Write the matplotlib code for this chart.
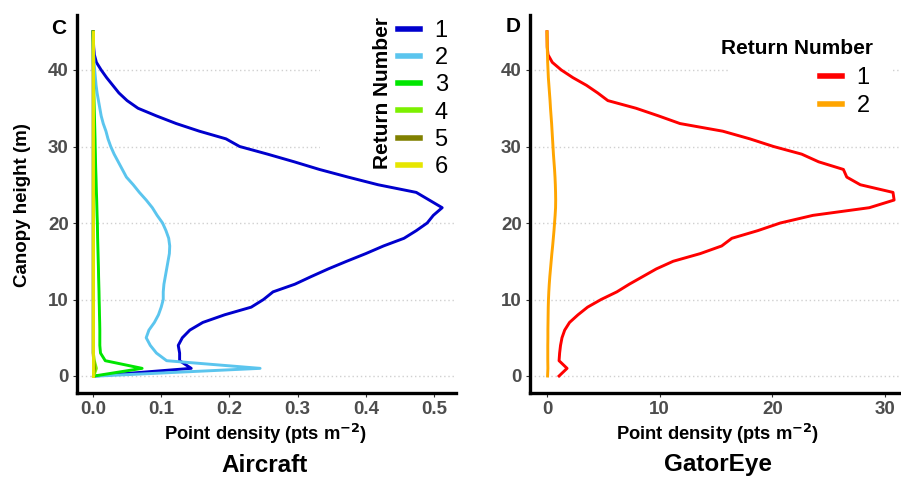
import matplotlib
matplotlib.use("Agg")
import matplotlib.pyplot as plt
from matplotlib.patches import Rectangle
from matplotlib.lines import Line2D

plt.rcParams['font.family'] = ['Liberation Sans', 'DejaVu Sans']
plt.rcParams['font.weight'] = 'bold'

heights = list(range(0, 46))

air_r1 = [0.003, 0.144, 0.127, 0.127, 0.125, 0.131, 0.142, 0.161, 0.193, 0.232,
          0.250, 0.264, 0.296, 0.320, 0.345, 0.372, 0.400, 0.426, 0.456, 0.474,
          0.490, 0.499, 0.512, 0.493, 0.474, 0.418, 0.374, 0.332, 0.295, 0.256,
          0.215, 0.195, 0.156, 0.122, 0.093, 0.066, 0.050, 0.038, 0.029, 0.020,
          0.012, 0.005, 0.002, 0.001, 0.0005, 0.0]
air_r2 = [0.008, 0.245, 0.108, 0.093, 0.084, 0.078, 0.082, 0.090, 0.096, 0.100,
          0.103, 0.103, 0.104, 0.106, 0.108, 0.110, 0.112, 0.1125, 0.111, 0.107,
          0.102, 0.094, 0.087, 0.078, 0.068, 0.059, 0.049, 0.043, 0.037, 0.031,
          0.026, 0.022, 0.019, 0.015, 0.012, 0.010, 0.008, 0.006, 0.0045, 0.0035,
          0.0025, 0.0015, 0.001, 0.0005, 0.0002, 0.0]
air_r3 = [0.002, 0.072, 0.018, 0.011, 0.010, 0.010, 0.010, 0.0098, 0.0095, 0.0093,
          0.009, 0.0088, 0.0085, 0.0082, 0.008, 0.0077, 0.0074, 0.0071, 0.0068, 0.0066,
          0.0064, 0.006, 0.0057, 0.0054, 0.005, 0.0047, 0.0044, 0.004, 0.0037, 0.0035,
          0.0032, 0.003, 0.0027, 0.0024, 0.0021, 0.0018, 0.0015, 0.0012, 0.001, 0.0008,
          0.0006, 0.0004, 0.0003, 0.0002, 0.0001, 0.0]
air_r4 = [0.001, 0.005, 0.002] + [0.0005] * 43
air_r5 = [0.0005, 0.002, 0.001] + [0.0002] * 43
air_r6 = [0.0002] * 46

gat_r1 = [1.07, 1.78, 1.07, 1.12, 1.2, 1.33, 1.57, 2.0, 2.75, 3.6,
          4.8, 6.2, 7.3, 8.5, 9.7, 11.2, 13.6, 15.5, 16.4, 18.7,
          20.7, 23.6, 28.6, 30.8, 30.7, 27.8, 26.6, 26.3, 24.1, 22.6,
          20.1, 18.0, 15.6, 11.8, 9.9, 7.9, 5.4, 4.5, 3.5, 2.3,
          1.27, 0.47, 0.09, 0.02, 0.01, 0.0]
gat_r2 = [0.05, 0.08, 0.07, 0.07, 0.07, 0.08, 0.08, 0.09, 0.10, 0.11,
          0.13, 0.16, 0.20, 0.25, 0.31, 0.37, 0.43, 0.50, 0.56, 0.62,
          0.67, 0.72, 0.76, 0.77, 0.76, 0.74, 0.71, 0.67, 0.62, 0.57,
          0.53, 0.49, 0.45, 0.41, 0.36, 0.31, 0.27, 0.22, 0.17, 0.12,
          0.09, 0.06, 0.04, 0.02, 0.01, 0.0]

air_labels = ['1', '2', '3', '4', '5', '6']
air_colors = ['#0000CD', '#5BC5EE', '#00E600', '#7CF000', '#808000', '#E6E600']
gat_labels = ['1', '2']
gat_colors = ['#FF0000', '#FFA500']

air_xticks = [0.0, 0.1, 0.2, 0.3, 0.4, 0.5]
gat_xticks = [0, 10, 20, 30]
yticks = [0, 10, 20, 30, 40]

W, H = 901, 479
fig = plt.figure(figsize=(W / 100, H / 100), dpi=100)


def fx(px):
    return px / W


def fy(py):
    return 1 - py / H


axL = fig.add_axes([fx(77), fy(393), fx(456) - fx(77), fy(15) - fy(393)])
axR = fig.add_axes([fx(530), fy(393), fx(901) - fx(530), fy(15) - fy(393)])

tick_color = '#4D4D4D'
for ax in (axL, axR):
    ax.set_axisbelow(True)
    ax.grid(axis='y', linestyle=(0, (1, 2)), color='#D0D0D0', linewidth=1.0)
    ax.grid(axis='x', visible=False)
    for s in ('top', 'right'):
        ax.spines[s].set_visible(False)
    for s in ('left', 'bottom'):
        ax.spines[s].set_linewidth(2.4)
        ax.spines[s].set_color('black')
    ax.set_yticks(yticks)
    ax.tick_params(axis='both', length=3, width=0.8, color='#333333',
                   labelsize=13.5, labelcolor=tick_color, pad=3)

air_series = [air_r1, air_r2, air_r3, air_r4, air_r5, air_r6]
for vals, c, lab in zip(air_series, air_colors, air_labels):
    axL.plot(vals, heights, color=c, lw=2.1, label=lab, zorder=3)

gat_series = [gat_r1, gat_r2]
for vals, c, lab in zip(gat_series, gat_colors, gat_labels):
    axR.plot(vals, heights, color=c, lw=2.1, label=lab, zorder=3)

axL.set_xlim((77 - 93) / 682, (456 - 93) / 682)
axL.set_ylim((376 - 393) / 7.65, (376 - 15) / 7.65)
axR.set_xlim((530 - 547) / 11.27, (901 - 547) / 11.27)
axR.set_ylim((376 - 393) / 7.65, (376 - 15) / 7.65)

axL.set_xticks(air_xticks)
axL.set_xticklabels([f'{v:.1f}' for v in air_xticks], fontweight='bold')
axR.set_xticks(gat_xticks)
axR.set_xticklabels([str(v) for v in gat_xticks], fontweight='bold')
axL.set_yticklabels([str(v) for v in yticks], fontweight='bold')
axR.set_yticklabels([str(v) for v in yticks], fontweight='bold')

# white legend backgrounds covering gridlines (inside axes, above grid, below lines)
axL.add_patch(Rectangle((fx(320), fy(160)), fx(456) - fx(320), fy(15) - fy(160),
                        transform=fig.transFigure, facecolor='white',
                        edgecolor='none', zorder=1))
axR.add_patch(Rectangle((fx(730), fy(120)), fx(893) - fx(730), fy(15) - fy(120),
                        transform=fig.transFigure, facecolor='white',
                        edgecolor='none', zorder=1))

# legends
handlesL = [Line2D([], [], color=c, lw=4) for c in air_colors]
legL = axL.legend(handlesL, air_labels, loc='upper left',
                  bbox_to_anchor=(fx(398), fy(20)), bbox_transform=fig.transFigure,
                  frameon=False, fontsize=17, handlelength=0.95, handletextpad=0.6,
                  labelspacing=0.22, borderpad=0.0, borderaxespad=0.0)
for t in legL.get_texts():
    t.set_fontweight('normal')
legL.set_zorder(5)
fig.text(fx(382), fy(93), 'Return Number', rotation=90, ha='center', va='center',
         fontsize=15, fontweight='bold')

handlesR = [Line2D([], [], color=c, lw=4) for c in gat_colors]
legR = axR.legend(handlesR, gat_labels, loc='upper left',
                  bbox_to_anchor=(fx(820), fy(67)), bbox_transform=fig.transFigure,
                  frameon=False, fontsize=17, handlelength=0.95, handletextpad=0.6,
                  labelspacing=0.27, borderpad=0.0, borderaxespad=0.0)
for t in legR.get_texts():
    t.set_fontweight('normal')
legR.set_zorder(5)
fig.text(fx(797), fy(48), 'Return Number', ha='center', va='center',
         fontsize=15, fontweight='bold')

# labels
fig.text(fx(23), fy(205), 'Canopy height (m)', rotation=90, ha='center', va='center',
         fontsize=13.5, fontweight='bold')
fig.text(fx(266), fy(434), r'Point density (pts m$^{\mathbf{-2}}$)', ha='center',
         va='center', fontsize=13.2, fontweight='bold')
fig.text(fx(718), fy(434), r'Point density (pts m$^{\mathbf{-2}}$)', ha='center',
         va='center', fontsize=13.2, fontweight='bold')
fig.text(fx(265), fy(466), 'Aircraft', ha='center', va='center', fontsize=17.5,
         fontweight='bold')
fig.text(fx(718), fy(464), 'GatorEye', ha='center', va='center', fontsize=17.5,
         fontweight='bold')
fig.text(fx(59), fy(28), 'C', ha='center', va='center', fontsize=15, fontweight='bold')
fig.text(fx(513), fy(27), 'D', ha='center', va='center', fontsize=15, fontweight='bold')

fig.savefig('out.png', dpi=100)
